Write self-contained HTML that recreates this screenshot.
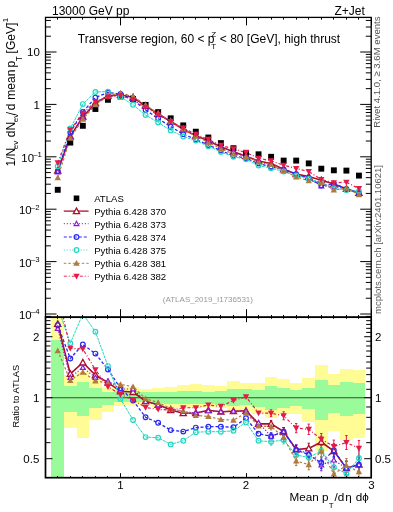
<!DOCTYPE html><html><head><meta charset="utf-8"><style>html,body{margin:0;padding:0;background:#fff;}svg{display:block;will-change:transform;font-family:"Liberation Sans",sans-serif;}</style></head><body>
<svg width="393" height="512" viewBox="0 0 393 512">
<defs><clipPath id="cm"><rect x="45.50" y="17.40" width="325.70" height="299.80"/></clipPath><clipPath id="cr"><rect x="45.50" y="317.20" width="325.70" height="160.50"/></clipPath></defs>
<g clip-path="url(#cr)">
<rect x="51.47" y="300.00" width="12.55" height="190.00" fill="#fffc96" shape-rendering="crispEdges"/>
<rect x="51.47" y="340.40" width="12.55" height="149.60" fill="#9afb9a" shape-rendering="crispEdges"/>
<rect x="64.02" y="375.30" width="12.55" height="52.90" fill="#fffc96" shape-rendering="crispEdges"/>
<rect x="64.02" y="385.50" width="12.55" height="26.50" fill="#9afb9a" shape-rendering="crispEdges"/>
<rect x="76.57" y="372.20" width="12.55" height="66.20" fill="#fffc96" shape-rendering="crispEdges"/>
<rect x="76.57" y="382.40" width="12.55" height="33.60" fill="#9afb9a" shape-rendering="crispEdges"/>
<rect x="89.12" y="380.40" width="12.55" height="39.60" fill="#fffc96" shape-rendering="crispEdges"/>
<rect x="89.12" y="387.50" width="12.55" height="20.40" fill="#9afb9a" shape-rendering="crispEdges"/>
<rect x="101.67" y="386.50" width="12.55" height="25.50" fill="#fffc96" shape-rendering="crispEdges"/>
<rect x="101.67" y="391.60" width="12.55" height="13.20" fill="#9afb9a" shape-rendering="crispEdges"/>
<rect x="114.22" y="386.50" width="12.55" height="19.50" fill="#fffc96" shape-rendering="crispEdges"/>
<rect x="114.22" y="390.50" width="12.55" height="11.80" fill="#9afb9a" shape-rendering="crispEdges"/>
<rect x="126.78" y="387.00" width="12.55" height="18.40" fill="#fffc96" shape-rendering="crispEdges"/>
<rect x="126.78" y="390.50" width="12.55" height="11.50" fill="#9afb9a" shape-rendering="crispEdges"/>
<rect x="139.32" y="388.90" width="12.55" height="15.90" fill="#fffc96" shape-rendering="crispEdges"/>
<rect x="139.32" y="392.10" width="12.55" height="9.70" fill="#9afb9a" shape-rendering="crispEdges"/>
<rect x="151.88" y="387.60" width="12.55" height="19.10" fill="#fffc96" shape-rendering="crispEdges"/>
<rect x="151.88" y="392.10" width="12.55" height="11.10" fill="#9afb9a" shape-rendering="crispEdges"/>
<rect x="164.42" y="387.30" width="12.55" height="20.20" fill="#fffc96" shape-rendering="crispEdges"/>
<rect x="164.42" y="392.30" width="12.55" height="11.20" fill="#9afb9a" shape-rendering="crispEdges"/>
<rect x="176.97" y="385.00" width="12.55" height="23.00" fill="#fffc96" shape-rendering="crispEdges"/>
<rect x="176.97" y="390.70" width="12.55" height="13.30" fill="#9afb9a" shape-rendering="crispEdges"/>
<rect x="189.53" y="384.40" width="12.55" height="23.60" fill="#fffc96" shape-rendering="crispEdges"/>
<rect x="189.53" y="390.70" width="12.55" height="13.40" fill="#9afb9a" shape-rendering="crispEdges"/>
<rect x="202.07" y="385.00" width="12.55" height="22.00" fill="#fffc96" shape-rendering="crispEdges"/>
<rect x="202.07" y="391.80" width="12.55" height="12.20" fill="#9afb9a" shape-rendering="crispEdges"/>
<rect x="214.62" y="385.70" width="12.55" height="22.30" fill="#fffc96" shape-rendering="crispEdges"/>
<rect x="214.62" y="391.00" width="12.55" height="13.80" fill="#9afb9a" shape-rendering="crispEdges"/>
<rect x="227.17" y="381.10" width="12.55" height="30.90" fill="#fffc96" shape-rendering="crispEdges"/>
<rect x="227.17" y="388.70" width="12.55" height="17.00" fill="#9afb9a" shape-rendering="crispEdges"/>
<rect x="239.72" y="382.90" width="12.55" height="27.90" fill="#fffc96" shape-rendering="crispEdges"/>
<rect x="239.72" y="389.40" width="12.55" height="15.30" fill="#9afb9a" shape-rendering="crispEdges"/>
<rect x="252.28" y="383.30" width="12.55" height="30.70" fill="#fffc96" shape-rendering="crispEdges"/>
<rect x="252.28" y="390.10" width="12.55" height="16.50" fill="#9afb9a" shape-rendering="crispEdges"/>
<rect x="264.83" y="376.50" width="12.55" height="41.00" fill="#fffc96" shape-rendering="crispEdges"/>
<rect x="264.83" y="386.40" width="12.55" height="23.30" fill="#9afb9a" shape-rendering="crispEdges"/>
<rect x="277.38" y="379.30" width="12.55" height="35.00" fill="#fffc96" shape-rendering="crispEdges"/>
<rect x="277.38" y="388.00" width="12.55" height="20.10" fill="#9afb9a" shape-rendering="crispEdges"/>
<rect x="289.93" y="383.30" width="12.55" height="31.10" fill="#fffc96" shape-rendering="crispEdges"/>
<rect x="289.93" y="389.70" width="12.55" height="16.20" fill="#9afb9a" shape-rendering="crispEdges"/>
<rect x="302.48" y="378.40" width="12.55" height="43.60" fill="#fffc96" shape-rendering="crispEdges"/>
<rect x="302.48" y="387.60" width="12.55" height="21.50" fill="#9afb9a" shape-rendering="crispEdges"/>
<rect x="315.03" y="365.00" width="12.55" height="86.00" fill="#fffc96" shape-rendering="crispEdges"/>
<rect x="315.03" y="380.10" width="12.55" height="39.70" fill="#9afb9a" shape-rendering="crispEdges"/>
<rect x="327.58" y="374.10" width="12.55" height="57.10" fill="#fffc96" shape-rendering="crispEdges"/>
<rect x="327.58" y="385.00" width="12.55" height="27.70" fill="#9afb9a" shape-rendering="crispEdges"/>
<rect x="340.12" y="368.90" width="12.55" height="70.90" fill="#fffc96" shape-rendering="crispEdges"/>
<rect x="340.12" y="382.20" width="12.55" height="34.00" fill="#9afb9a" shape-rendering="crispEdges"/>
<rect x="352.68" y="369.80" width="12.55" height="68.30" fill="#fffc96" shape-rendering="crispEdges"/>
<rect x="352.68" y="382.70" width="12.55" height="31.70" fill="#9afb9a" shape-rendering="crispEdges"/>
<line x1="45.5" y1="397.7" x2="371.2" y2="397.7" stroke="#000" stroke-width="1.1" stroke-opacity="0.68"/>
</g>
<g clip-path="url(#cr)">
<polyline points="57.75,323.90 70.30,373.90 82.85,362.50 95.40,375.00 107.95,382.60 120.50,391.30 133.05,392.00 145.60,401.20 158.15,404.80 170.70,410.00 183.25,413.20 195.80,413.00 208.35,410.20 220.90,411.70 233.45,411.20 246.00,410.80 258.55,423.90 271.10,423.90 283.65,431.50 296.20,449.50 308.75,448.40 321.30,442.00 333.85,451.00 346.40,468.20 358.95,464.60" fill="none" stroke="#a8102c" stroke-width="1.6"/>
<polyline points="57.75,328.50 70.30,377.50 82.85,367.50 95.40,377.50 107.95,381.00 120.50,389.00 133.05,389.00 145.60,401.70 158.15,405.00 170.70,408.60 183.25,411.60 195.80,413.00 208.35,410.80 220.90,411.70 233.45,411.20 246.00,411.00 258.55,422.80 271.10,436.30 283.65,431.50 296.20,449.50 308.75,453.80 321.30,465.00 333.85,460.10 346.40,468.20 358.95,464.60" fill="none" stroke="#8a1ad0" stroke-width="1.2" stroke-dasharray="1.2 1.8"/>
<polyline points="57.75,325.20 70.30,358.50 82.85,344.50 95.40,353.60 107.95,369.50 120.50,388.20 133.05,400.50 145.60,417.30 158.15,422.80 170.70,430.10 183.25,431.60 195.80,427.60 208.35,426.70 220.90,426.70 233.45,427.20 246.00,418.30 258.55,433.70 271.10,436.30 283.65,431.70 296.20,450.00 308.75,454.70 321.30,462.80 333.85,450.20 346.40,468.20 358.95,464.60" fill="none" stroke="#2a2af5" stroke-width="1.3" stroke-dasharray="3 2"/>
<polyline points="57.75,306.84 70.30,343.30 82.85,313.80 95.40,331.80 107.95,366.10 120.50,398.90 133.05,420.00 145.60,437.10 158.15,437.70 170.70,444.40 183.25,440.70 195.80,432.20 208.35,431.70 220.90,431.70 233.45,430.80 246.00,422.40 258.55,440.80 271.10,441.70 283.65,439.90 296.20,455.10 308.75,457.40 321.30,451.00 333.85,467.30 346.40,473.70 358.95,458.30" fill="none" stroke="#22d8c0" stroke-width="1.0" stroke-dasharray="3 0.8"/>
<polyline points="57.75,350.60 70.30,380.50 82.85,372.10 95.40,381.00 107.95,382.90 120.50,384.40 133.05,386.70 145.60,398.80 158.15,402.50 170.70,408.60 183.25,411.00 195.80,415.40 208.35,416.50 220.90,419.50 233.45,420.10 246.00,413.00 258.55,426.00 271.10,426.50 283.65,437.50 296.20,461.00 308.75,464.60 321.30,451.10 333.85,474.00 346.40,465.50 358.95,471.80" fill="none" stroke="#b07a40" stroke-width="1.2" stroke-dasharray="2.5 2"/>
<polyline points="57.75,292.92 70.30,348.30 82.85,349.00 95.40,369.80 107.95,386.70 120.50,394.40 133.05,400.00 145.60,407.50 158.15,409.40 170.70,410.10 183.25,407.80 195.80,407.70 208.35,405.00 220.90,406.40 233.45,400.50 246.00,396.80 258.55,413.00 271.10,413.20 283.65,415.80 296.20,428.10 308.75,429.30 321.30,439.30 333.85,446.50 346.40,442.50 358.95,448.20" fill="none" stroke="#e61a48" stroke-width="1.2" stroke-dasharray="3 2 1 2"/>
<path d="M271.10,420.50V427.30M269.90,420.50h2.4M269.90,427.30h2.4M283.65,427.50V435.50M282.45,427.50h2.4M282.45,435.50h2.4M296.20,444.90V454.10M295.00,444.90h2.4M295.00,454.10h2.4M308.75,443.20V453.60M307.55,443.20h2.4M307.55,453.60h2.4M321.30,436.20V447.80M320.10,436.20h2.4M320.10,447.80h2.4M333.85,444.60V457.40M332.65,444.60h2.4M332.65,457.40h2.4M346.40,461.20V475.20M345.20,461.20h2.4M345.20,475.20h2.4M358.95,457.00V472.20M357.75,457.00h2.4M357.75,472.20h2.4" stroke="#a8102c" stroke-width="1" fill="none"/>
<path d="M271.10,432.90V439.70M269.90,432.90h2.4M269.90,439.70h2.4M283.65,427.50V435.50M282.45,427.50h2.4M282.45,435.50h2.4M296.20,444.90V454.10M295.00,444.90h2.4M295.00,454.10h2.4M308.75,448.60V459.00M307.55,448.60h2.4M307.55,459.00h2.4M321.30,459.20V470.80M320.10,459.20h2.4M320.10,470.80h2.4M333.85,453.70V466.50M332.65,453.70h2.4M332.65,466.50h2.4M346.40,461.20V475.20M345.20,461.20h2.4M345.20,475.20h2.4M358.95,457.00V472.20M357.75,457.00h2.4M357.75,472.20h2.4" stroke="#8a1ad0" stroke-width="1" fill="none"/>
<path d="M271.10,432.90V439.70M269.90,432.90h2.4M269.90,439.70h2.4M283.65,427.70V435.70M282.45,427.70h2.4M282.45,435.70h2.4M296.20,445.40V454.60M295.00,445.40h2.4M295.00,454.60h2.4M308.75,449.50V459.90M307.55,449.50h2.4M307.55,459.90h2.4M321.30,457.00V468.60M320.10,457.00h2.4M320.10,468.60h2.4M333.85,443.80V456.60M332.65,443.80h2.4M332.65,456.60h2.4M346.40,461.20V475.20M345.20,461.20h2.4M345.20,475.20h2.4M358.95,457.00V472.20M357.75,457.00h2.4M357.75,472.20h2.4" stroke="#2a2af5" stroke-width="1" fill="none"/>
<path d="M271.10,438.30V445.10M269.90,438.30h2.4M269.90,445.10h2.4M283.65,435.90V443.90M282.45,435.90h2.4M282.45,443.90h2.4M296.20,450.50V459.70M295.00,450.50h2.4M295.00,459.70h2.4M308.75,452.20V462.60M307.55,452.20h2.4M307.55,462.60h2.4M321.30,445.20V456.80M320.10,445.20h2.4M320.10,456.80h2.4M333.85,460.90V473.70M332.65,460.90h2.4M332.65,473.70h2.4M346.40,466.70V480.70M345.20,466.70h2.4M345.20,480.70h2.4M358.95,450.70V465.90M357.75,450.70h2.4M357.75,465.90h2.4" stroke="#22d8c0" stroke-width="1" fill="none"/>
<path d="M271.10,423.10V429.90M269.90,423.10h2.4M269.90,429.90h2.4M283.65,433.50V441.50M282.45,433.50h2.4M282.45,441.50h2.4M296.20,456.40V465.60M295.00,456.40h2.4M295.00,465.60h2.4M308.75,459.40V469.80M307.55,459.40h2.4M307.55,469.80h2.4M321.30,445.30V456.90M320.10,445.30h2.4M320.10,456.90h2.4M333.85,467.60V480.40M332.65,467.60h2.4M332.65,480.40h2.4M346.40,458.50V472.50M345.20,458.50h2.4M345.20,472.50h2.4M358.95,464.20V479.40M357.75,464.20h2.4M357.75,479.40h2.4" stroke="#b07a40" stroke-width="1" fill="none"/>
<path d="M271.10,409.80V416.60M269.90,409.80h2.4M269.90,416.60h2.4M283.65,411.80V419.80M282.45,411.80h2.4M282.45,419.80h2.4M296.20,423.50V432.70M295.00,423.50h2.4M295.00,432.70h2.4M308.75,424.10V434.50M307.55,424.10h2.4M307.55,434.50h2.4M321.30,433.50V445.10M320.10,433.50h2.4M320.10,445.10h2.4M333.85,440.10V452.90M332.65,440.10h2.4M332.65,452.90h2.4M346.40,435.50V449.50M345.20,435.50h2.4M345.20,449.50h2.4M358.95,440.60V455.80M357.75,440.60h2.4M357.75,455.80h2.4" stroke="#e61a48" stroke-width="1" fill="none"/>
<path d="M57.75,320.80L60.85,326.38L54.65,326.38Z" fill="#fff" stroke="#a8102c" stroke-width="1.3"/>
<path d="M70.30,370.80L73.40,376.38L67.20,376.38Z" fill="#fff" stroke="#a8102c" stroke-width="1.3"/>
<path d="M82.85,359.40L85.95,364.98L79.75,364.98Z" fill="#fff" stroke="#a8102c" stroke-width="1.3"/>
<path d="M95.40,371.90L98.50,377.48L92.30,377.48Z" fill="#fff" stroke="#a8102c" stroke-width="1.3"/>
<path d="M107.95,379.50L111.05,385.08L104.85,385.08Z" fill="#fff" stroke="#a8102c" stroke-width="1.3"/>
<path d="M120.50,388.20L123.60,393.78L117.40,393.78Z" fill="#fff" stroke="#a8102c" stroke-width="1.3"/>
<path d="M133.05,388.90L136.15,394.48L129.95,394.48Z" fill="#fff" stroke="#a8102c" stroke-width="1.3"/>
<path d="M145.60,398.10L148.70,403.68L142.50,403.68Z" fill="#fff" stroke="#a8102c" stroke-width="1.3"/>
<path d="M158.15,401.70L161.25,407.28L155.05,407.28Z" fill="#fff" stroke="#a8102c" stroke-width="1.3"/>
<path d="M170.70,406.90L173.80,412.48L167.60,412.48Z" fill="#fff" stroke="#a8102c" stroke-width="1.3"/>
<path d="M183.25,410.10L186.35,415.68L180.15,415.68Z" fill="#fff" stroke="#a8102c" stroke-width="1.3"/>
<path d="M195.80,409.90L198.90,415.48L192.70,415.48Z" fill="#fff" stroke="#a8102c" stroke-width="1.3"/>
<path d="M208.35,407.10L211.45,412.68L205.25,412.68Z" fill="#fff" stroke="#a8102c" stroke-width="1.3"/>
<path d="M220.90,408.60L224.00,414.18L217.80,414.18Z" fill="#fff" stroke="#a8102c" stroke-width="1.3"/>
<path d="M233.45,408.10L236.55,413.68L230.35,413.68Z" fill="#fff" stroke="#a8102c" stroke-width="1.3"/>
<path d="M246.00,407.70L249.10,413.28L242.90,413.28Z" fill="#fff" stroke="#a8102c" stroke-width="1.3"/>
<path d="M258.55,420.80L261.65,426.38L255.45,426.38Z" fill="#fff" stroke="#a8102c" stroke-width="1.3"/>
<path d="M271.10,420.80L274.20,426.38L268.00,426.38Z" fill="#fff" stroke="#a8102c" stroke-width="1.3"/>
<path d="M283.65,428.40L286.75,433.98L280.55,433.98Z" fill="#fff" stroke="#a8102c" stroke-width="1.3"/>
<path d="M296.20,446.40L299.30,451.98L293.10,451.98Z" fill="#fff" stroke="#a8102c" stroke-width="1.3"/>
<path d="M308.75,445.30L311.85,450.88L305.65,450.88Z" fill="#fff" stroke="#a8102c" stroke-width="1.3"/>
<path d="M321.30,438.90L324.40,444.48L318.20,444.48Z" fill="#fff" stroke="#a8102c" stroke-width="1.3"/>
<path d="M333.85,447.90L336.95,453.48L330.75,453.48Z" fill="#fff" stroke="#a8102c" stroke-width="1.3"/>
<path d="M346.40,465.10L349.50,470.68L343.30,470.68Z" fill="#fff" stroke="#a8102c" stroke-width="1.3"/>
<path d="M358.95,461.50L362.05,467.08L355.85,467.08Z" fill="#fff" stroke="#a8102c" stroke-width="1.3"/>
<path d="M57.75,326.10L60.15,330.42L55.35,330.42Z" fill="#fff" stroke="#8a1ad0" stroke-width="1.15"/>
<path d="M70.30,375.10L72.70,379.42L67.90,379.42Z" fill="#fff" stroke="#8a1ad0" stroke-width="1.15"/>
<path d="M82.85,365.10L85.25,369.42L80.45,369.42Z" fill="#fff" stroke="#8a1ad0" stroke-width="1.15"/>
<path d="M95.40,375.10L97.80,379.42L93.00,379.42Z" fill="#fff" stroke="#8a1ad0" stroke-width="1.15"/>
<path d="M107.95,378.60L110.35,382.92L105.55,382.92Z" fill="#fff" stroke="#8a1ad0" stroke-width="1.15"/>
<path d="M120.50,386.60L122.90,390.92L118.10,390.92Z" fill="#fff" stroke="#8a1ad0" stroke-width="1.15"/>
<path d="M133.05,386.60L135.45,390.92L130.65,390.92Z" fill="#fff" stroke="#8a1ad0" stroke-width="1.15"/>
<path d="M145.60,399.30L148.00,403.62L143.20,403.62Z" fill="#fff" stroke="#8a1ad0" stroke-width="1.15"/>
<path d="M158.15,402.60L160.55,406.92L155.75,406.92Z" fill="#fff" stroke="#8a1ad0" stroke-width="1.15"/>
<path d="M170.70,406.20L173.10,410.52L168.30,410.52Z" fill="#fff" stroke="#8a1ad0" stroke-width="1.15"/>
<path d="M183.25,409.20L185.65,413.52L180.85,413.52Z" fill="#fff" stroke="#8a1ad0" stroke-width="1.15"/>
<path d="M195.80,410.60L198.20,414.92L193.40,414.92Z" fill="#fff" stroke="#8a1ad0" stroke-width="1.15"/>
<path d="M208.35,408.40L210.75,412.72L205.95,412.72Z" fill="#fff" stroke="#8a1ad0" stroke-width="1.15"/>
<path d="M220.90,409.30L223.30,413.62L218.50,413.62Z" fill="#fff" stroke="#8a1ad0" stroke-width="1.15"/>
<path d="M233.45,408.80L235.85,413.12L231.05,413.12Z" fill="#fff" stroke="#8a1ad0" stroke-width="1.15"/>
<path d="M246.00,408.60L248.40,412.92L243.60,412.92Z" fill="#fff" stroke="#8a1ad0" stroke-width="1.15"/>
<path d="M258.55,420.40L260.95,424.72L256.15,424.72Z" fill="#fff" stroke="#8a1ad0" stroke-width="1.15"/>
<path d="M271.10,433.90L273.50,438.22L268.70,438.22Z" fill="#fff" stroke="#8a1ad0" stroke-width="1.15"/>
<path d="M283.65,429.10L286.05,433.42L281.25,433.42Z" fill="#fff" stroke="#8a1ad0" stroke-width="1.15"/>
<path d="M296.20,447.10L298.60,451.42L293.80,451.42Z" fill="#fff" stroke="#8a1ad0" stroke-width="1.15"/>
<path d="M308.75,451.40L311.15,455.72L306.35,455.72Z" fill="#fff" stroke="#8a1ad0" stroke-width="1.15"/>
<path d="M321.30,462.60L323.70,466.92L318.90,466.92Z" fill="#fff" stroke="#8a1ad0" stroke-width="1.15"/>
<path d="M333.85,457.70L336.25,462.02L331.45,462.02Z" fill="#fff" stroke="#8a1ad0" stroke-width="1.15"/>
<path d="M346.40,465.80L348.80,470.12L344.00,470.12Z" fill="#fff" stroke="#8a1ad0" stroke-width="1.15"/>
<path d="M358.95,462.20L361.35,466.52L356.55,466.52Z" fill="#fff" stroke="#8a1ad0" stroke-width="1.15"/>
<circle cx="57.75" cy="325.20" r="2.35" fill="none" stroke="#2a2af5" stroke-width="1.2"/>
<circle cx="70.30" cy="358.50" r="2.35" fill="none" stroke="#2a2af5" stroke-width="1.2"/>
<circle cx="82.85" cy="344.50" r="2.35" fill="none" stroke="#2a2af5" stroke-width="1.2"/>
<circle cx="95.40" cy="353.60" r="2.35" fill="none" stroke="#2a2af5" stroke-width="1.2"/>
<circle cx="107.95" cy="369.50" r="2.35" fill="none" stroke="#2a2af5" stroke-width="1.2"/>
<circle cx="120.50" cy="388.20" r="2.35" fill="none" stroke="#2a2af5" stroke-width="1.2"/>
<circle cx="133.05" cy="400.50" r="2.35" fill="none" stroke="#2a2af5" stroke-width="1.2"/>
<circle cx="145.60" cy="417.30" r="2.35" fill="none" stroke="#2a2af5" stroke-width="1.2"/>
<circle cx="158.15" cy="422.80" r="2.35" fill="none" stroke="#2a2af5" stroke-width="1.2"/>
<circle cx="170.70" cy="430.10" r="2.35" fill="none" stroke="#2a2af5" stroke-width="1.2"/>
<circle cx="183.25" cy="431.60" r="2.35" fill="none" stroke="#2a2af5" stroke-width="1.2"/>
<circle cx="195.80" cy="427.60" r="2.35" fill="none" stroke="#2a2af5" stroke-width="1.2"/>
<circle cx="208.35" cy="426.70" r="2.35" fill="none" stroke="#2a2af5" stroke-width="1.2"/>
<circle cx="220.90" cy="426.70" r="2.35" fill="none" stroke="#2a2af5" stroke-width="1.2"/>
<circle cx="233.45" cy="427.20" r="2.35" fill="none" stroke="#2a2af5" stroke-width="1.2"/>
<circle cx="246.00" cy="418.30" r="2.35" fill="none" stroke="#2a2af5" stroke-width="1.2"/>
<circle cx="258.55" cy="433.70" r="2.35" fill="none" stroke="#2a2af5" stroke-width="1.2"/>
<circle cx="271.10" cy="436.30" r="2.35" fill="none" stroke="#2a2af5" stroke-width="1.2"/>
<circle cx="283.65" cy="431.70" r="2.35" fill="none" stroke="#2a2af5" stroke-width="1.2"/>
<circle cx="296.20" cy="450.00" r="2.35" fill="none" stroke="#2a2af5" stroke-width="1.2"/>
<circle cx="308.75" cy="454.70" r="2.35" fill="none" stroke="#2a2af5" stroke-width="1.2"/>
<circle cx="321.30" cy="462.80" r="2.35" fill="none" stroke="#2a2af5" stroke-width="1.2"/>
<circle cx="333.85" cy="450.20" r="2.35" fill="none" stroke="#2a2af5" stroke-width="1.2"/>
<circle cx="346.40" cy="468.20" r="2.35" fill="none" stroke="#2a2af5" stroke-width="1.2"/>
<circle cx="358.95" cy="464.60" r="2.35" fill="none" stroke="#2a2af5" stroke-width="1.2"/>
<circle cx="57.75" cy="306.84" r="2.35" fill="none" stroke="#22d8c0" stroke-width="1.2"/>
<circle cx="70.30" cy="343.30" r="2.35" fill="none" stroke="#22d8c0" stroke-width="1.2"/>
<circle cx="82.85" cy="313.80" r="2.35" fill="none" stroke="#22d8c0" stroke-width="1.2"/>
<circle cx="95.40" cy="331.80" r="2.35" fill="none" stroke="#22d8c0" stroke-width="1.2"/>
<circle cx="107.95" cy="366.10" r="2.35" fill="none" stroke="#22d8c0" stroke-width="1.2"/>
<circle cx="120.50" cy="398.90" r="2.35" fill="none" stroke="#22d8c0" stroke-width="1.2"/>
<circle cx="133.05" cy="420.00" r="2.35" fill="none" stroke="#22d8c0" stroke-width="1.2"/>
<circle cx="145.60" cy="437.10" r="2.35" fill="none" stroke="#22d8c0" stroke-width="1.2"/>
<circle cx="158.15" cy="437.70" r="2.35" fill="none" stroke="#22d8c0" stroke-width="1.2"/>
<circle cx="170.70" cy="444.40" r="2.35" fill="none" stroke="#22d8c0" stroke-width="1.2"/>
<circle cx="183.25" cy="440.70" r="2.35" fill="none" stroke="#22d8c0" stroke-width="1.2"/>
<circle cx="195.80" cy="432.20" r="2.35" fill="none" stroke="#22d8c0" stroke-width="1.2"/>
<circle cx="208.35" cy="431.70" r="2.35" fill="none" stroke="#22d8c0" stroke-width="1.2"/>
<circle cx="220.90" cy="431.70" r="2.35" fill="none" stroke="#22d8c0" stroke-width="1.2"/>
<circle cx="233.45" cy="430.80" r="2.35" fill="none" stroke="#22d8c0" stroke-width="1.2"/>
<circle cx="246.00" cy="422.40" r="2.35" fill="none" stroke="#22d8c0" stroke-width="1.2"/>
<circle cx="258.55" cy="440.80" r="2.35" fill="none" stroke="#22d8c0" stroke-width="1.2"/>
<circle cx="271.10" cy="441.70" r="2.35" fill="none" stroke="#22d8c0" stroke-width="1.2"/>
<circle cx="283.65" cy="439.90" r="2.35" fill="none" stroke="#22d8c0" stroke-width="1.2"/>
<circle cx="296.20" cy="455.10" r="2.35" fill="none" stroke="#22d8c0" stroke-width="1.2"/>
<circle cx="308.75" cy="457.40" r="2.35" fill="none" stroke="#22d8c0" stroke-width="1.2"/>
<circle cx="321.30" cy="451.00" r="2.35" fill="none" stroke="#22d8c0" stroke-width="1.2"/>
<circle cx="333.85" cy="467.30" r="2.35" fill="none" stroke="#22d8c0" stroke-width="1.2"/>
<circle cx="346.40" cy="473.70" r="2.35" fill="none" stroke="#22d8c0" stroke-width="1.2"/>
<circle cx="358.95" cy="458.30" r="2.35" fill="none" stroke="#22d8c0" stroke-width="1.2"/>
<path d="M57.75,347.40L60.95,353.16L54.55,353.16Z" fill="#b07a40"/>
<path d="M70.30,377.30L73.50,383.06L67.10,383.06Z" fill="#b07a40"/>
<path d="M82.85,368.90L86.05,374.66L79.65,374.66Z" fill="#b07a40"/>
<path d="M95.40,377.80L98.60,383.56L92.20,383.56Z" fill="#b07a40"/>
<path d="M107.95,379.70L111.15,385.46L104.75,385.46Z" fill="#b07a40"/>
<path d="M120.50,381.20L123.70,386.96L117.30,386.96Z" fill="#b07a40"/>
<path d="M133.05,383.50L136.25,389.26L129.85,389.26Z" fill="#b07a40"/>
<path d="M145.60,395.60L148.80,401.36L142.40,401.36Z" fill="#b07a40"/>
<path d="M158.15,399.30L161.35,405.06L154.95,405.06Z" fill="#b07a40"/>
<path d="M170.70,405.40L173.90,411.16L167.50,411.16Z" fill="#b07a40"/>
<path d="M183.25,407.80L186.45,413.56L180.05,413.56Z" fill="#b07a40"/>
<path d="M195.80,412.20L199.00,417.96L192.60,417.96Z" fill="#b07a40"/>
<path d="M208.35,413.30L211.55,419.06L205.15,419.06Z" fill="#b07a40"/>
<path d="M220.90,416.30L224.10,422.06L217.70,422.06Z" fill="#b07a40"/>
<path d="M233.45,416.90L236.65,422.66L230.25,422.66Z" fill="#b07a40"/>
<path d="M246.00,409.80L249.20,415.56L242.80,415.56Z" fill="#b07a40"/>
<path d="M258.55,422.80L261.75,428.56L255.35,428.56Z" fill="#b07a40"/>
<path d="M271.10,423.30L274.30,429.06L267.90,429.06Z" fill="#b07a40"/>
<path d="M283.65,434.30L286.85,440.06L280.45,440.06Z" fill="#b07a40"/>
<path d="M296.20,457.80L299.40,463.56L293.00,463.56Z" fill="#b07a40"/>
<path d="M308.75,461.40L311.95,467.16L305.55,467.16Z" fill="#b07a40"/>
<path d="M321.30,447.90L324.50,453.66L318.10,453.66Z" fill="#b07a40"/>
<path d="M333.85,470.80L337.05,476.56L330.65,476.56Z" fill="#b07a40"/>
<path d="M346.40,462.30L349.60,468.06L343.20,468.06Z" fill="#b07a40"/>
<path d="M358.95,468.60L362.15,474.36L355.75,474.36Z" fill="#b07a40"/>
<path d="M57.75,296.12L60.95,290.36L54.55,290.36Z" fill="#e61a48"/>
<path d="M70.30,351.50L73.50,345.74L67.10,345.74Z" fill="#e61a48"/>
<path d="M82.85,352.20L86.05,346.44L79.65,346.44Z" fill="#e61a48"/>
<path d="M95.40,373.00L98.60,367.24L92.20,367.24Z" fill="#e61a48"/>
<path d="M107.95,389.90L111.15,384.14L104.75,384.14Z" fill="#e61a48"/>
<path d="M120.50,397.60L123.70,391.84L117.30,391.84Z" fill="#e61a48"/>
<path d="M133.05,403.20L136.25,397.44L129.85,397.44Z" fill="#e61a48"/>
<path d="M145.60,410.70L148.80,404.94L142.40,404.94Z" fill="#e61a48"/>
<path d="M158.15,412.60L161.35,406.84L154.95,406.84Z" fill="#e61a48"/>
<path d="M170.70,413.30L173.90,407.54L167.50,407.54Z" fill="#e61a48"/>
<path d="M183.25,411.00L186.45,405.24L180.05,405.24Z" fill="#e61a48"/>
<path d="M195.80,410.90L199.00,405.14L192.60,405.14Z" fill="#e61a48"/>
<path d="M208.35,408.20L211.55,402.44L205.15,402.44Z" fill="#e61a48"/>
<path d="M220.90,409.60L224.10,403.84L217.70,403.84Z" fill="#e61a48"/>
<path d="M233.45,403.70L236.65,397.94L230.25,397.94Z" fill="#e61a48"/>
<path d="M246.00,400.00L249.20,394.24L242.80,394.24Z" fill="#e61a48"/>
<path d="M258.55,416.20L261.75,410.44L255.35,410.44Z" fill="#e61a48"/>
<path d="M271.10,416.40L274.30,410.64L267.90,410.64Z" fill="#e61a48"/>
<path d="M283.65,419.00L286.85,413.24L280.45,413.24Z" fill="#e61a48"/>
<path d="M296.20,431.30L299.40,425.54L293.00,425.54Z" fill="#e61a48"/>
<path d="M308.75,432.50L311.95,426.74L305.55,426.74Z" fill="#e61a48"/>
<path d="M321.30,442.50L324.50,436.74L318.10,436.74Z" fill="#e61a48"/>
<path d="M333.85,449.70L337.05,443.94L330.65,443.94Z" fill="#e61a48"/>
<path d="M346.40,445.70L349.60,439.94L343.20,439.94Z" fill="#e61a48"/>
<path d="M358.95,451.40L362.15,445.64L355.75,445.64Z" fill="#e61a48"/>
</g>
<g clip-path="url(#cm)">
<polyline points="57.75,170.71 70.30,136.44 82.85,116.70 95.40,103.13 107.95,95.89 120.50,94.84 133.05,97.53 145.60,105.81 158.15,113.94 170.70,121.48 183.25,129.41 195.80,135.66 208.35,140.73 220.90,146.72 233.45,151.69 246.00,156.19 258.55,161.08 271.10,163.58 283.65,169.34 296.20,174.00 308.75,176.51 321.30,180.16 333.85,184.09 346.40,188.83 358.95,192.90" fill="none" stroke="#a8102c" stroke-width="1.6"/>
<polyline points="57.75,171.90 70.30,137.38 82.85,117.99 95.40,103.78 107.95,95.48 120.50,94.25 133.05,96.75 145.60,105.93 158.15,113.99 170.70,121.12 183.25,129.00 195.80,135.66 208.35,140.89 220.90,146.72 233.45,151.69 246.00,156.24 258.55,160.79 271.10,166.78 283.65,169.34 296.20,174.00 308.75,177.91 321.30,186.11 333.85,186.44 346.40,188.83 358.95,192.90" fill="none" stroke="#8a1ad0" stroke-width="1.2" stroke-dasharray="1.2 1.8"/>
<polyline points="57.75,171.05 70.30,132.46 82.85,112.04 95.40,97.59 107.95,92.51 120.50,94.04 133.05,99.72 145.60,109.97 158.15,118.59 170.70,126.68 183.25,134.17 195.80,139.43 208.35,145.00 220.90,150.60 233.45,155.83 246.00,158.13 258.55,163.61 271.10,166.78 283.65,169.39 296.20,174.13 308.75,178.14 321.30,185.54 333.85,183.88 346.40,188.83 358.95,192.90" fill="none" stroke="#2a2af5" stroke-width="1.3" stroke-dasharray="3 2"/>
<polyline points="57.75,166.30 70.30,128.53 82.85,104.10 95.40,91.96 107.95,91.63 120.50,96.81 133.05,104.77 145.60,115.09 158.15,122.45 170.70,130.38 183.25,136.52 195.80,140.62 208.35,146.29 220.90,151.89 233.45,156.76 246.00,159.19 258.55,165.45 271.10,168.18 283.65,171.51 296.20,175.45 308.75,178.84 321.30,182.49 333.85,188.30 346.40,190.26 358.95,191.27" fill="none" stroke="#22d8c0" stroke-width="1.0" stroke-dasharray="3 0.8"/>
<polyline points="57.75,177.62 70.30,138.15 82.85,119.18 95.40,104.68 107.95,95.97 120.50,93.06 133.05,96.15 145.60,105.18 158.15,113.34 170.70,121.12 183.25,128.84 195.80,136.28 208.35,142.36 220.90,148.74 233.45,153.99 246.00,156.76 258.55,161.62 271.10,164.25 283.65,170.89 296.20,176.97 308.75,180.70 321.30,182.51 333.85,190.03 346.40,188.14 358.95,194.77" fill="none" stroke="#b07a40" stroke-width="1.2" stroke-dasharray="2.5 2"/>
<polyline points="57.75,162.70 70.30,129.82 82.85,113.20 95.40,101.78 107.95,96.95 120.50,95.65 133.05,99.59 145.60,107.43 158.15,115.13 170.70,121.51 183.25,128.01 195.80,134.29 208.35,139.39 220.90,145.35 233.45,148.92 246.00,152.57 258.55,158.26 271.10,160.81 283.65,165.28 296.20,168.46 308.75,171.57 321.30,179.46 333.85,182.92 346.40,182.19 358.95,188.66" fill="none" stroke="#e61a48" stroke-width="1.2" stroke-dasharray="3 2 1 2"/>
<rect x="54.80" y="186.85" width="5.9" height="5.9" fill="#000"/>
<rect x="67.35" y="139.65" width="5.9" height="5.9" fill="#000"/>
<rect x="79.90" y="122.85" width="5.9" height="5.9" fill="#000"/>
<rect x="92.45" y="106.05" width="5.9" height="5.9" fill="#000"/>
<rect x="105.00" y="96.85" width="5.9" height="5.9" fill="#000"/>
<rect x="117.55" y="93.55" width="5.9" height="5.9" fill="#000"/>
<rect x="130.10" y="96.05" width="5.9" height="5.9" fill="#000"/>
<rect x="142.65" y="101.95" width="5.9" height="5.9" fill="#000"/>
<rect x="155.20" y="109.15" width="5.9" height="5.9" fill="#000"/>
<rect x="167.75" y="115.35" width="5.9" height="5.9" fill="#000"/>
<rect x="180.30" y="122.45" width="5.9" height="5.9" fill="#000"/>
<rect x="192.85" y="128.75" width="5.9" height="5.9" fill="#000"/>
<rect x="205.40" y="134.55" width="5.9" height="5.9" fill="#000"/>
<rect x="217.95" y="140.15" width="5.9" height="5.9" fill="#000"/>
<rect x="230.50" y="145.25" width="5.9" height="5.9" fill="#000"/>
<rect x="243.05" y="149.85" width="5.9" height="5.9" fill="#000"/>
<rect x="255.60" y="151.35" width="5.9" height="5.9" fill="#000"/>
<rect x="268.15" y="153.85" width="5.9" height="5.9" fill="#000"/>
<rect x="280.70" y="157.65" width="5.9" height="5.9" fill="#000"/>
<rect x="293.25" y="157.65" width="5.9" height="5.9" fill="#000"/>
<rect x="305.80" y="160.45" width="5.9" height="5.9" fill="#000"/>
<rect x="318.35" y="165.75" width="5.9" height="5.9" fill="#000"/>
<rect x="330.90" y="167.35" width="5.9" height="5.9" fill="#000"/>
<rect x="343.45" y="167.65" width="5.9" height="5.9" fill="#000"/>
<rect x="356.00" y="172.65" width="5.9" height="5.9" fill="#000"/>
<path d="M57.75,167.61L60.85,173.19L54.65,173.19Z" fill="#fff" stroke="#a8102c" stroke-width="1.3"/>
<path d="M70.30,133.34L73.40,138.92L67.20,138.92Z" fill="#fff" stroke="#a8102c" stroke-width="1.3"/>
<path d="M82.85,113.60L85.95,119.18L79.75,119.18Z" fill="#fff" stroke="#a8102c" stroke-width="1.3"/>
<path d="M95.40,100.03L98.50,105.61L92.30,105.61Z" fill="#fff" stroke="#a8102c" stroke-width="1.3"/>
<path d="M107.95,92.79L111.05,98.37L104.85,98.37Z" fill="#fff" stroke="#a8102c" stroke-width="1.3"/>
<path d="M120.50,91.74L123.60,97.32L117.40,97.32Z" fill="#fff" stroke="#a8102c" stroke-width="1.3"/>
<path d="M133.05,94.43L136.15,100.01L129.95,100.01Z" fill="#fff" stroke="#a8102c" stroke-width="1.3"/>
<path d="M145.60,102.71L148.70,108.29L142.50,108.29Z" fill="#fff" stroke="#a8102c" stroke-width="1.3"/>
<path d="M158.15,110.84L161.25,116.42L155.05,116.42Z" fill="#fff" stroke="#a8102c" stroke-width="1.3"/>
<path d="M170.70,118.38L173.80,123.96L167.60,123.96Z" fill="#fff" stroke="#a8102c" stroke-width="1.3"/>
<path d="M183.25,126.31L186.35,131.89L180.15,131.89Z" fill="#fff" stroke="#a8102c" stroke-width="1.3"/>
<path d="M195.80,132.56L198.90,138.14L192.70,138.14Z" fill="#fff" stroke="#a8102c" stroke-width="1.3"/>
<path d="M208.35,137.63L211.45,143.21L205.25,143.21Z" fill="#fff" stroke="#a8102c" stroke-width="1.3"/>
<path d="M220.90,143.62L224.00,149.20L217.80,149.20Z" fill="#fff" stroke="#a8102c" stroke-width="1.3"/>
<path d="M233.45,148.59L236.55,154.17L230.35,154.17Z" fill="#fff" stroke="#a8102c" stroke-width="1.3"/>
<path d="M246.00,153.09L249.10,158.67L242.90,158.67Z" fill="#fff" stroke="#a8102c" stroke-width="1.3"/>
<path d="M258.55,157.98L261.65,163.56L255.45,163.56Z" fill="#fff" stroke="#a8102c" stroke-width="1.3"/>
<path d="M271.10,160.48L274.20,166.06L268.00,166.06Z" fill="#fff" stroke="#a8102c" stroke-width="1.3"/>
<path d="M283.65,166.24L286.75,171.82L280.55,171.82Z" fill="#fff" stroke="#a8102c" stroke-width="1.3"/>
<path d="M296.20,170.90L299.30,176.48L293.10,176.48Z" fill="#fff" stroke="#a8102c" stroke-width="1.3"/>
<path d="M308.75,173.41L311.85,178.99L305.65,178.99Z" fill="#fff" stroke="#a8102c" stroke-width="1.3"/>
<path d="M321.30,177.06L324.40,182.64L318.20,182.64Z" fill="#fff" stroke="#a8102c" stroke-width="1.3"/>
<path d="M333.85,180.99L336.95,186.57L330.75,186.57Z" fill="#fff" stroke="#a8102c" stroke-width="1.3"/>
<path d="M346.40,185.73L349.50,191.31L343.30,191.31Z" fill="#fff" stroke="#a8102c" stroke-width="1.3"/>
<path d="M358.95,189.80L362.05,195.38L355.85,195.38Z" fill="#fff" stroke="#a8102c" stroke-width="1.3"/>
<path d="M57.75,169.50L60.15,173.82L55.35,173.82Z" fill="#fff" stroke="#8a1ad0" stroke-width="1.15"/>
<path d="M70.30,134.98L72.70,139.30L67.90,139.30Z" fill="#fff" stroke="#8a1ad0" stroke-width="1.15"/>
<path d="M82.85,115.59L85.25,119.91L80.45,119.91Z" fill="#fff" stroke="#8a1ad0" stroke-width="1.15"/>
<path d="M95.40,101.38L97.80,105.70L93.00,105.70Z" fill="#fff" stroke="#8a1ad0" stroke-width="1.15"/>
<path d="M107.95,93.08L110.35,97.40L105.55,97.40Z" fill="#fff" stroke="#8a1ad0" stroke-width="1.15"/>
<path d="M120.50,91.85L122.90,96.17L118.10,96.17Z" fill="#fff" stroke="#8a1ad0" stroke-width="1.15"/>
<path d="M133.05,94.35L135.45,98.67L130.65,98.67Z" fill="#fff" stroke="#8a1ad0" stroke-width="1.15"/>
<path d="M145.60,103.53L148.00,107.85L143.20,107.85Z" fill="#fff" stroke="#8a1ad0" stroke-width="1.15"/>
<path d="M158.15,111.59L160.55,115.91L155.75,115.91Z" fill="#fff" stroke="#8a1ad0" stroke-width="1.15"/>
<path d="M170.70,118.72L173.10,123.04L168.30,123.04Z" fill="#fff" stroke="#8a1ad0" stroke-width="1.15"/>
<path d="M183.25,126.60L185.65,130.92L180.85,130.92Z" fill="#fff" stroke="#8a1ad0" stroke-width="1.15"/>
<path d="M195.80,133.26L198.20,137.58L193.40,137.58Z" fill="#fff" stroke="#8a1ad0" stroke-width="1.15"/>
<path d="M208.35,138.49L210.75,142.81L205.95,142.81Z" fill="#fff" stroke="#8a1ad0" stroke-width="1.15"/>
<path d="M220.90,144.32L223.30,148.64L218.50,148.64Z" fill="#fff" stroke="#8a1ad0" stroke-width="1.15"/>
<path d="M233.45,149.29L235.85,153.61L231.05,153.61Z" fill="#fff" stroke="#8a1ad0" stroke-width="1.15"/>
<path d="M246.00,153.84L248.40,158.16L243.60,158.16Z" fill="#fff" stroke="#8a1ad0" stroke-width="1.15"/>
<path d="M258.55,158.39L260.95,162.71L256.15,162.71Z" fill="#fff" stroke="#8a1ad0" stroke-width="1.15"/>
<path d="M271.10,164.38L273.50,168.70L268.70,168.70Z" fill="#fff" stroke="#8a1ad0" stroke-width="1.15"/>
<path d="M283.65,166.94L286.05,171.26L281.25,171.26Z" fill="#fff" stroke="#8a1ad0" stroke-width="1.15"/>
<path d="M296.20,171.60L298.60,175.92L293.80,175.92Z" fill="#fff" stroke="#8a1ad0" stroke-width="1.15"/>
<path d="M308.75,175.51L311.15,179.83L306.35,179.83Z" fill="#fff" stroke="#8a1ad0" stroke-width="1.15"/>
<path d="M321.30,183.71L323.70,188.03L318.90,188.03Z" fill="#fff" stroke="#8a1ad0" stroke-width="1.15"/>
<path d="M333.85,184.04L336.25,188.36L331.45,188.36Z" fill="#fff" stroke="#8a1ad0" stroke-width="1.15"/>
<path d="M346.40,186.43L348.80,190.75L344.00,190.75Z" fill="#fff" stroke="#8a1ad0" stroke-width="1.15"/>
<path d="M358.95,190.50L361.35,194.82L356.55,194.82Z" fill="#fff" stroke="#8a1ad0" stroke-width="1.15"/>
<circle cx="57.75" cy="171.05" r="2.35" fill="none" stroke="#2a2af5" stroke-width="1.2"/>
<circle cx="70.30" cy="132.46" r="2.35" fill="none" stroke="#2a2af5" stroke-width="1.2"/>
<circle cx="82.85" cy="112.04" r="2.35" fill="none" stroke="#2a2af5" stroke-width="1.2"/>
<circle cx="95.40" cy="97.59" r="2.35" fill="none" stroke="#2a2af5" stroke-width="1.2"/>
<circle cx="107.95" cy="92.51" r="2.35" fill="none" stroke="#2a2af5" stroke-width="1.2"/>
<circle cx="120.50" cy="94.04" r="2.35" fill="none" stroke="#2a2af5" stroke-width="1.2"/>
<circle cx="133.05" cy="99.72" r="2.35" fill="none" stroke="#2a2af5" stroke-width="1.2"/>
<circle cx="145.60" cy="109.97" r="2.35" fill="none" stroke="#2a2af5" stroke-width="1.2"/>
<circle cx="158.15" cy="118.59" r="2.35" fill="none" stroke="#2a2af5" stroke-width="1.2"/>
<circle cx="170.70" cy="126.68" r="2.35" fill="none" stroke="#2a2af5" stroke-width="1.2"/>
<circle cx="183.25" cy="134.17" r="2.35" fill="none" stroke="#2a2af5" stroke-width="1.2"/>
<circle cx="195.80" cy="139.43" r="2.35" fill="none" stroke="#2a2af5" stroke-width="1.2"/>
<circle cx="208.35" cy="145.00" r="2.35" fill="none" stroke="#2a2af5" stroke-width="1.2"/>
<circle cx="220.90" cy="150.60" r="2.35" fill="none" stroke="#2a2af5" stroke-width="1.2"/>
<circle cx="233.45" cy="155.83" r="2.35" fill="none" stroke="#2a2af5" stroke-width="1.2"/>
<circle cx="246.00" cy="158.13" r="2.35" fill="none" stroke="#2a2af5" stroke-width="1.2"/>
<circle cx="258.55" cy="163.61" r="2.35" fill="none" stroke="#2a2af5" stroke-width="1.2"/>
<circle cx="271.10" cy="166.78" r="2.35" fill="none" stroke="#2a2af5" stroke-width="1.2"/>
<circle cx="283.65" cy="169.39" r="2.35" fill="none" stroke="#2a2af5" stroke-width="1.2"/>
<circle cx="296.20" cy="174.13" r="2.35" fill="none" stroke="#2a2af5" stroke-width="1.2"/>
<circle cx="308.75" cy="178.14" r="2.35" fill="none" stroke="#2a2af5" stroke-width="1.2"/>
<circle cx="321.30" cy="185.54" r="2.35" fill="none" stroke="#2a2af5" stroke-width="1.2"/>
<circle cx="333.85" cy="183.88" r="2.35" fill="none" stroke="#2a2af5" stroke-width="1.2"/>
<circle cx="346.40" cy="188.83" r="2.35" fill="none" stroke="#2a2af5" stroke-width="1.2"/>
<circle cx="358.95" cy="192.90" r="2.35" fill="none" stroke="#2a2af5" stroke-width="1.2"/>
<circle cx="57.75" cy="166.30" r="2.35" fill="none" stroke="#22d8c0" stroke-width="1.2"/>
<circle cx="70.30" cy="128.53" r="2.35" fill="none" stroke="#22d8c0" stroke-width="1.2"/>
<circle cx="82.85" cy="104.10" r="2.35" fill="none" stroke="#22d8c0" stroke-width="1.2"/>
<circle cx="95.40" cy="91.96" r="2.35" fill="none" stroke="#22d8c0" stroke-width="1.2"/>
<circle cx="107.95" cy="91.63" r="2.35" fill="none" stroke="#22d8c0" stroke-width="1.2"/>
<circle cx="120.50" cy="96.81" r="2.35" fill="none" stroke="#22d8c0" stroke-width="1.2"/>
<circle cx="133.05" cy="104.77" r="2.35" fill="none" stroke="#22d8c0" stroke-width="1.2"/>
<circle cx="145.60" cy="115.09" r="2.35" fill="none" stroke="#22d8c0" stroke-width="1.2"/>
<circle cx="158.15" cy="122.45" r="2.35" fill="none" stroke="#22d8c0" stroke-width="1.2"/>
<circle cx="170.70" cy="130.38" r="2.35" fill="none" stroke="#22d8c0" stroke-width="1.2"/>
<circle cx="183.25" cy="136.52" r="2.35" fill="none" stroke="#22d8c0" stroke-width="1.2"/>
<circle cx="195.80" cy="140.62" r="2.35" fill="none" stroke="#22d8c0" stroke-width="1.2"/>
<circle cx="208.35" cy="146.29" r="2.35" fill="none" stroke="#22d8c0" stroke-width="1.2"/>
<circle cx="220.90" cy="151.89" r="2.35" fill="none" stroke="#22d8c0" stroke-width="1.2"/>
<circle cx="233.45" cy="156.76" r="2.35" fill="none" stroke="#22d8c0" stroke-width="1.2"/>
<circle cx="246.00" cy="159.19" r="2.35" fill="none" stroke="#22d8c0" stroke-width="1.2"/>
<circle cx="258.55" cy="165.45" r="2.35" fill="none" stroke="#22d8c0" stroke-width="1.2"/>
<circle cx="271.10" cy="168.18" r="2.35" fill="none" stroke="#22d8c0" stroke-width="1.2"/>
<circle cx="283.65" cy="171.51" r="2.35" fill="none" stroke="#22d8c0" stroke-width="1.2"/>
<circle cx="296.20" cy="175.45" r="2.35" fill="none" stroke="#22d8c0" stroke-width="1.2"/>
<circle cx="308.75" cy="178.84" r="2.35" fill="none" stroke="#22d8c0" stroke-width="1.2"/>
<circle cx="321.30" cy="182.49" r="2.35" fill="none" stroke="#22d8c0" stroke-width="1.2"/>
<circle cx="333.85" cy="188.30" r="2.35" fill="none" stroke="#22d8c0" stroke-width="1.2"/>
<circle cx="346.40" cy="190.26" r="2.35" fill="none" stroke="#22d8c0" stroke-width="1.2"/>
<circle cx="358.95" cy="191.27" r="2.35" fill="none" stroke="#22d8c0" stroke-width="1.2"/>
<path d="M57.75,174.42L60.95,180.18L54.55,180.18Z" fill="#b07a40"/>
<path d="M70.30,134.95L73.50,140.71L67.10,140.71Z" fill="#b07a40"/>
<path d="M82.85,115.98L86.05,121.74L79.65,121.74Z" fill="#b07a40"/>
<path d="M95.40,101.48L98.60,107.24L92.20,107.24Z" fill="#b07a40"/>
<path d="M107.95,92.77L111.15,98.53L104.75,98.53Z" fill="#b07a40"/>
<path d="M120.50,89.86L123.70,95.62L117.30,95.62Z" fill="#b07a40"/>
<path d="M133.05,92.95L136.25,98.71L129.85,98.71Z" fill="#b07a40"/>
<path d="M145.60,101.98L148.80,107.74L142.40,107.74Z" fill="#b07a40"/>
<path d="M158.15,110.14L161.35,115.90L154.95,115.90Z" fill="#b07a40"/>
<path d="M170.70,117.92L173.90,123.68L167.50,123.68Z" fill="#b07a40"/>
<path d="M183.25,125.64L186.45,131.40L180.05,131.40Z" fill="#b07a40"/>
<path d="M195.80,133.08L199.00,138.84L192.60,138.84Z" fill="#b07a40"/>
<path d="M208.35,139.16L211.55,144.92L205.15,144.92Z" fill="#b07a40"/>
<path d="M220.90,145.54L224.10,151.30L217.70,151.30Z" fill="#b07a40"/>
<path d="M233.45,150.79L236.65,156.55L230.25,156.55Z" fill="#b07a40"/>
<path d="M246.00,153.56L249.20,159.32L242.80,159.32Z" fill="#b07a40"/>
<path d="M258.55,158.42L261.75,164.18L255.35,164.18Z" fill="#b07a40"/>
<path d="M271.10,161.05L274.30,166.81L267.90,166.81Z" fill="#b07a40"/>
<path d="M283.65,167.69L286.85,173.45L280.45,173.45Z" fill="#b07a40"/>
<path d="M296.20,173.77L299.40,179.53L293.00,179.53Z" fill="#b07a40"/>
<path d="M308.75,177.50L311.95,183.26L305.55,183.26Z" fill="#b07a40"/>
<path d="M321.30,179.31L324.50,185.07L318.10,185.07Z" fill="#b07a40"/>
<path d="M333.85,186.83L337.05,192.59L330.65,192.59Z" fill="#b07a40"/>
<path d="M346.40,184.94L349.60,190.70L343.20,190.70Z" fill="#b07a40"/>
<path d="M358.95,191.57L362.15,197.33L355.75,197.33Z" fill="#b07a40"/>
<path d="M57.75,165.90L60.95,160.14L54.55,160.14Z" fill="#e61a48"/>
<path d="M70.30,133.02L73.50,127.26L67.10,127.26Z" fill="#e61a48"/>
<path d="M82.85,116.40L86.05,110.64L79.65,110.64Z" fill="#e61a48"/>
<path d="M95.40,104.98L98.60,99.22L92.20,99.22Z" fill="#e61a48"/>
<path d="M107.95,100.15L111.15,94.39L104.75,94.39Z" fill="#e61a48"/>
<path d="M120.50,98.85L123.70,93.09L117.30,93.09Z" fill="#e61a48"/>
<path d="M133.05,102.79L136.25,97.03L129.85,97.03Z" fill="#e61a48"/>
<path d="M145.60,110.63L148.80,104.87L142.40,104.87Z" fill="#e61a48"/>
<path d="M158.15,118.33L161.35,112.57L154.95,112.57Z" fill="#e61a48"/>
<path d="M170.70,124.71L173.90,118.95L167.50,118.95Z" fill="#e61a48"/>
<path d="M183.25,131.21L186.45,125.45L180.05,125.45Z" fill="#e61a48"/>
<path d="M195.80,137.49L199.00,131.73L192.60,131.73Z" fill="#e61a48"/>
<path d="M208.35,142.59L211.55,136.83L205.15,136.83Z" fill="#e61a48"/>
<path d="M220.90,148.55L224.10,142.79L217.70,142.79Z" fill="#e61a48"/>
<path d="M233.45,152.12L236.65,146.36L230.25,146.36Z" fill="#e61a48"/>
<path d="M246.00,155.77L249.20,150.01L242.80,150.01Z" fill="#e61a48"/>
<path d="M258.55,161.46L261.75,155.70L255.35,155.70Z" fill="#e61a48"/>
<path d="M271.10,164.01L274.30,158.25L267.90,158.25Z" fill="#e61a48"/>
<path d="M283.65,168.48L286.85,162.72L280.45,162.72Z" fill="#e61a48"/>
<path d="M296.20,171.66L299.40,165.90L293.00,165.90Z" fill="#e61a48"/>
<path d="M308.75,174.77L311.95,169.01L305.55,169.01Z" fill="#e61a48"/>
<path d="M321.30,182.66L324.50,176.90L318.10,176.90Z" fill="#e61a48"/>
<path d="M333.85,186.12L337.05,180.36L330.65,180.36Z" fill="#e61a48"/>
<path d="M346.40,185.39L349.60,179.63L343.20,179.63Z" fill="#e61a48"/>
<path d="M358.95,191.86L362.15,186.10L355.75,186.10Z" fill="#e61a48"/>
</g>
<rect x="45.5" y="17.4" width="325.70" height="299.80" fill="none" stroke="#000" stroke-width="1.3"/>
<rect x="45.5" y="317.2" width="325.70" height="160.50" fill="none" stroke="#000" stroke-width="1.7"/>
<path d="M45.50,17.4v2.2M45.50,317.2v-2.2M45.50,317.2v1.6M45.50,477.7v-1.6M57.50,17.4v2.2M57.50,317.2v-2.2M57.50,317.2v1.6M57.50,477.7v-1.6M70.50,17.4v2.2M70.50,317.2v-2.2M70.50,317.2v1.6M70.50,477.7v-1.6M82.50,17.4v2.2M82.50,317.2v-2.2M82.50,317.2v1.6M82.50,477.7v-1.6M95.50,17.4v2.2M95.50,317.2v-2.2M95.50,317.2v1.6M95.50,477.7v-1.6M107.50,17.4v2.2M107.50,317.2v-2.2M107.50,317.2v1.6M107.50,477.7v-1.6M120.50,17.4v8M120.50,317.2v-8M120.50,317.2v5M120.50,477.7v-4.5M133.50,17.4v2.2M133.50,317.2v-2.2M133.50,317.2v1.6M133.50,477.7v-1.6M145.50,17.4v2.2M145.50,317.2v-2.2M145.50,317.2v1.6M145.50,477.7v-1.6M158.50,17.4v2.2M158.50,317.2v-2.2M158.50,317.2v1.6M158.50,477.7v-1.6M170.50,17.4v2.2M170.50,317.2v-2.2M170.50,317.2v1.6M170.50,477.7v-1.6M183.50,17.4v2.2M183.50,317.2v-2.2M183.50,317.2v1.6M183.50,477.7v-1.6M195.50,17.4v2.2M195.50,317.2v-2.2M195.50,317.2v1.6M195.50,477.7v-1.6M208.50,17.4v2.2M208.50,317.2v-2.2M208.50,317.2v1.6M208.50,477.7v-1.6M220.50,17.4v2.2M220.50,317.2v-2.2M220.50,317.2v1.6M220.50,477.7v-1.6M233.50,17.4v2.2M233.50,317.2v-2.2M233.50,317.2v1.6M233.50,477.7v-1.6M246.50,17.4v8M246.50,317.2v-8M246.50,317.2v5M246.50,477.7v-4.5M258.50,17.4v2.2M258.50,317.2v-2.2M258.50,317.2v1.6M258.50,477.7v-1.6M271.50,17.4v2.2M271.50,317.2v-2.2M271.50,317.2v1.6M271.50,477.7v-1.6M283.50,17.4v2.2M283.50,317.2v-2.2M283.50,317.2v1.6M283.50,477.7v-1.6M296.50,17.4v2.2M296.50,317.2v-2.2M296.50,317.2v1.6M296.50,477.7v-1.6M308.50,17.4v2.2M308.50,317.2v-2.2M308.50,317.2v1.6M308.50,477.7v-1.6M321.50,17.4v2.2M321.50,317.2v-2.2M321.50,317.2v1.6M321.50,477.7v-1.6M333.50,17.4v2.2M333.50,317.2v-2.2M333.50,317.2v1.6M333.50,477.7v-1.6M346.50,17.4v2.2M346.50,317.2v-2.2M346.50,317.2v1.6M346.50,477.7v-1.6M358.50,17.4v2.2M358.50,317.2v-2.2M358.50,317.2v1.6M358.50,477.7v-1.6M371.50,317.2v-8M371.50,17.4v8M45.5,316.40h5.4M371.2,316.40h-5.4M45.5,314.00h11M371.2,314.00h-11M45.5,298.23h5.4M371.2,298.23h-5.4M45.5,289.00h5.4M371.2,289.00h-5.4M45.5,282.45h5.4M371.2,282.45h-5.4M45.5,277.37h5.4M371.2,277.37h-5.4M45.5,273.22h5.4M371.2,273.22h-5.4M45.5,269.72h5.4M371.2,269.72h-5.4M45.5,266.68h5.4M371.2,266.68h-5.4M45.5,264.00h5.4M371.2,264.00h-5.4M45.5,261.60h11M371.2,261.60h-11M45.5,245.83h5.4M371.2,245.83h-5.4M45.5,236.60h5.4M371.2,236.60h-5.4M45.5,230.05h5.4M371.2,230.05h-5.4M45.5,224.97h5.4M371.2,224.97h-5.4M45.5,220.82h5.4M371.2,220.82h-5.4M45.5,217.32h5.4M371.2,217.32h-5.4M45.5,214.28h5.4M371.2,214.28h-5.4M45.5,211.60h5.4M371.2,211.60h-5.4M45.5,209.20h11M371.2,209.20h-11M45.5,193.43h5.4M371.2,193.43h-5.4M45.5,184.20h5.4M371.2,184.20h-5.4M45.5,177.65h5.4M371.2,177.65h-5.4M45.5,172.57h5.4M371.2,172.57h-5.4M45.5,168.42h5.4M371.2,168.42h-5.4M45.5,164.92h5.4M371.2,164.92h-5.4M45.5,161.88h5.4M371.2,161.88h-5.4M45.5,159.20h5.4M371.2,159.20h-5.4M45.5,156.80h11M371.2,156.80h-11M45.5,141.03h5.4M371.2,141.03h-5.4M45.5,131.80h5.4M371.2,131.80h-5.4M45.5,125.25h5.4M371.2,125.25h-5.4M45.5,120.17h5.4M371.2,120.17h-5.4M45.5,116.02h5.4M371.2,116.02h-5.4M45.5,112.52h5.4M371.2,112.52h-5.4M45.5,109.48h5.4M371.2,109.48h-5.4M45.5,106.80h5.4M371.2,106.80h-5.4M45.5,104.40h11M371.2,104.40h-11M45.5,88.63h5.4M371.2,88.63h-5.4M45.5,79.40h5.4M371.2,79.40h-5.4M45.5,72.85h5.4M371.2,72.85h-5.4M45.5,67.77h5.4M371.2,67.77h-5.4M45.5,63.62h5.4M371.2,63.62h-5.4M45.5,60.12h5.4M371.2,60.12h-5.4M45.5,57.08h5.4M371.2,57.08h-5.4M45.5,54.40h5.4M371.2,54.40h-5.4M45.5,52.00h11M371.2,52.00h-11M45.5,36.23h5.4M371.2,36.23h-5.4M45.5,27.00h5.4M371.2,27.00h-5.4M45.5,20.45h5.4M371.2,20.45h-5.4M45.5,458.69h7M371.2,458.69h-7M45.5,442.65h5M371.2,442.65h-5M45.5,429.08h5M371.2,429.08h-5M45.5,417.33h5M371.2,417.33h-5M45.5,406.97h5M371.2,406.97h-5M45.5,397.70h7M371.2,397.70h-7M45.5,389.31h5M371.2,389.31h-5M45.5,381.66h5M371.2,381.66h-5M45.5,374.62h5M371.2,374.62h-5M45.5,368.09h5M371.2,368.09h-5M45.5,362.02h5M371.2,362.02h-5M45.5,356.35h5M371.2,356.35h-5M45.5,351.01h5M371.2,351.01h-5M45.5,345.98h5M371.2,345.98h-5M45.5,341.22h5M371.2,341.22h-5M45.5,336.71h7M371.2,336.71h-7M45.5,332.42h5M371.2,332.42h-5M45.5,328.33h5M371.2,328.33h-5M45.5,324.41h5M371.2,324.41h-5M45.5,320.67h5M371.2,320.67h-5" stroke="#000" stroke-width="1" fill="none"/>
<g font-family="Liberation Sans, sans-serif" fill="#000">
<text x="52" y="14.5" font-size="12">13000 GeV pp</text>
<text x="364.8" y="14.5" font-size="12" text-anchor="end">Z+Jet</text>
<text x="77.8" y="42.7" font-size="12">Transverse region, 60 &lt; p</text>
<text x="211.3" y="36.6" font-size="8">Z</text><text x="211.3" y="49.2" font-size="8">T</text>
<text x="219.8" y="42.7" font-size="12"> &lt; 80 [GeV], high thrust</text>
<text x="39.8" y="56.2" font-size="11.5" text-anchor="end">10</text>
<text x="39.8" y="108.6" font-size="11.5" text-anchor="end">1</text>
<text x="21.3" y="161.9" font-size="11.4">10<tspan dx="-0.8" dy="-4.6" font-size="7.8">&#8211;1</tspan></text>
<text x="19.0" y="214.3" font-size="11.4">10<tspan dx="-0.8" dy="-4.6" font-size="7.8">&#8211;2</tspan></text>
<text x="19.0" y="266.7" font-size="11.4">10<tspan dx="-0.8" dy="-4.6" font-size="7.8">&#8211;3</tspan></text>
<text x="19.0" y="318.9" font-size="11.4">10<tspan dx="-0.8" dy="-4.6" font-size="7.8">&#8211;4</tspan></text>
<text x="39.3" y="340.9" font-size="11.5" text-anchor="end">2</text>
<text x="375" y="340.9" font-size="11.5">2</text>
<text x="39.3" y="401.9" font-size="11.5" text-anchor="end">1</text>
<text x="375" y="401.9" font-size="11.5">1</text>
<text x="39.3" y="462.9" font-size="11.5" text-anchor="end">0.5</text>
<text x="375" y="462.9" font-size="11.5">0.5</text>
<text x="120.50" y="489" font-size="11.5" text-anchor="middle">1</text>
<text x="246.00" y="489" font-size="11.5" text-anchor="middle">2</text>
<text x="371.50" y="489" font-size="11.5" text-anchor="middle">3</text>
<text x="289.5" y="500.8" font-size="11.7">Mean p</text><text x="328.8" y="508" font-size="8">T</text><text x="334.6" y="500.8" font-size="11.7">/d</text><text x="345.3" y="500.8" font-size="11.7">&#951;</text><text x="355.8" y="500.8" font-size="11.7">d&#981;</text>
<text transform="translate(15.0,166.4) rotate(-90)" font-size="12">1/N</text>
<text transform="translate(17.9,149.3) rotate(-90)" font-size="8">ev</text>
<text transform="translate(15.0,137.2) rotate(-90)" font-size="12">dN</text>
<text transform="translate(17.9,122.3) rotate(-90)" font-size="8">ev</text>
<text transform="translate(15.0,115.2) rotate(-90)" font-size="12">/</text>
<text transform="translate(15.0,110.2) rotate(-90)" font-size="12">d</text>
<text transform="translate(15.0,99.7) rotate(-90)" font-size="12">mean</text>
<text transform="translate(15.0,67.6) rotate(-90)" font-size="12">p</text>
<text transform="translate(21.8,61.2) rotate(-90)" font-size="8.3">T</text>
<text transform="translate(15.0,53.4) rotate(-90)" font-size="12">[GeV]</text>
<text transform="translate(8.2,24.8) rotate(-90)" font-size="8">-1</text>
<text transform="translate(19.1,427.6) rotate(-90)" font-size="9.3">Ratio to ATLAS</text>
<text transform="translate(380.3,127.8) rotate(-90)" font-size="9.6" fill="#555">Rivet 4.1.0, &#8805; 3.6M events</text>
<text transform="translate(380.6,314) rotate(-90)" font-size="9.5" fill="#5a5a5a">mcplots.cern.ch [arXiv:2401.10621]</text>
<text x="162.8" y="302" font-size="8" fill="#999">(ATLAS_2019_I1736531)</text>
<rect x="73.70" y="195.50" width="5.6" height="5.6" fill="#000"/>
<text x="94.2" y="201.9" font-size="9.6">ATLAS</text>
<line x1="63.8" y1="211.1" x2="88.6" y2="211.1" stroke="#a8102c" stroke-width="1.28"/>
<path d="M76.50,208.00L79.60,213.58L73.40,213.58Z" fill="#fff" stroke="#a8102c" stroke-width="1.3"/>
<text x="94.2" y="214.9" font-size="9.6">Pythia 6.428 370</text>
<line x1="63.8" y1="223.7" x2="88.6" y2="223.7" stroke="#8a1ad0" stroke-width="0.96" stroke-dasharray="1.2 1.8"/>
<path d="M76.50,221.30L78.90,225.62L74.10,225.62Z" fill="#fff" stroke="#8a1ad0" stroke-width="1.15"/>
<text x="94.2" y="227.5" font-size="9.6">Pythia 6.428 373</text>
<line x1="63.8" y1="237" x2="88.6" y2="237" stroke="#2a2af5" stroke-width="1.04" stroke-dasharray="3 2"/>
<circle cx="76.50" cy="237.00" r="2.35" fill="none" stroke="#2a2af5" stroke-width="1.2"/>
<text x="94.2" y="240.8" font-size="9.6">Pythia 6.428 374</text>
<line x1="63.8" y1="250" x2="88.6" y2="250" stroke="#22d8c0" stroke-width="0.80" stroke-dasharray="1.2 1.6"/>
<circle cx="76.50" cy="250.00" r="2.35" fill="none" stroke="#22d8c0" stroke-width="1.2"/>
<text x="94.2" y="253.8" font-size="9.6">Pythia 6.428 375</text>
<line x1="63.8" y1="263.3" x2="88.6" y2="263.3" stroke="#b07a40" stroke-width="0.96" stroke-dasharray="2.5 2"/>
<path d="M76.50,260.10L79.70,265.86L73.30,265.86Z" fill="#b07a40"/>
<text x="94.2" y="267.1" font-size="9.6">Pythia 6.428 381</text>
<line x1="63.8" y1="276.2" x2="88.6" y2="276.2" stroke="#e61a48" stroke-width="0.96" stroke-dasharray="3 2 1 2"/>
<path d="M76.50,279.40L79.70,273.64L73.30,273.64Z" fill="#e61a48"/>
<text x="94.2" y="280.0" font-size="9.6">Pythia 6.428 382</text>
</g>
</svg></body></html>
